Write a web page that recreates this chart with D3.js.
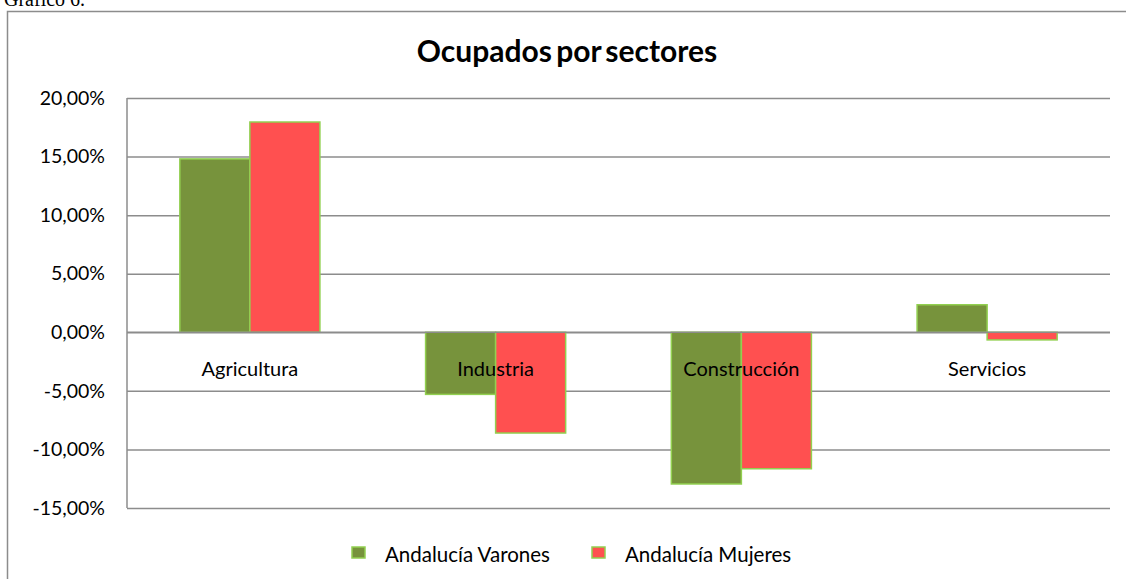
<!DOCTYPE html>
<html>
<head>
<meta charset="utf-8">
<script src="https://cdn.jsdelivr.net/npm/d3@7"></script>
<style>
  body { margin: 0; background: #fff; }
  svg { display: block; font-family: Lato, "Open Sans", sans-serif; }
</style>
</head>
<body>
<svg id="chart" width="1126" height="579"></svg>
<script>
// data
var categories = ["Agricultura", "Industria", "Construcción", "Servicios"];
var seriesNames = ["Andalucía Varones", "Andalucía Mujeres"];
var varones = [14.8, -5.3, -12.95, 2.35];
var mujeres = [17.95, -8.6, -11.65, -0.65];
var yTicks = [20, 15, 10, 5, 0, -5, -10, -15];

var colors = ["#77933C", "#FF5050"];
var svg = d3.select("#chart");
var margin = { left: 127, right: 16, top: 98, bottom: 71 },
    width = +svg.attr("width"),
    height = +svg.attr("height");

// outer chart frame (runs off the right and bottom of the shot)
svg.append("rect")
    .attr("x", 7.5).attr("y", 11.5)
    .attr("width", 1130).attr("height", 580)
    .attr("fill", "none").attr("stroke", "#8c8c8c").attr("stroke-width", 1.5);

// caption above the frame, mostly cut off like in the scan
svg.append("text")
    .attr("x", 4).attr("y", 6)
    .style("font-family", "'Liberation Serif', serif")
    .style("font-size", "20px")
    .text("Gráfico 6.");

svg.append("text")
    .attr("x", 567).attr("y", 62)
    .attr("text-anchor", "middle")
    .style("font-size", "30px").style("font-weight", "bold")
    .style("word-spacing", "-3px")
    .text("Ocupados por sectores");

var y = d3.scaleLinear().domain([-15, 20]).range([height - margin.bottom, margin.top]);
var x0 = d3.scaleBand().domain(categories).range([margin.left, width - margin.right]).paddingInner(0.43).paddingOuter(0.215);
var x1 = d3.scaleBand().domain(seriesNames).range([0, x0.bandwidth()]);

// 2 decimals, comma separator, plain hyphen for negatives
var fmt = function (d) { return d.toFixed(2).replace(".", ",") + "%"; };

// gridlines and y labels
var yAxis = svg.append("g")
    .attr("transform", `translate(${margin.left},0)`)
    .call(d3.axisLeft(y).tickValues(yTicks).tickSize(-(width - margin.left - margin.right)).tickFormat(fmt).tickPadding(22));
yAxis.select(".domain").remove();
yAxis.selectAll(".tick line").attr("stroke", "#8c8c8c").attr("stroke-width", 1.5);
yAxis.selectAll(".tick text").style("font-size", "19.5px").style("font-family", "Lato, sans-serif").attr("fill", "#000");

// left axis line
svg.append("line")
    .attr("x1", margin.left).attr("x2", margin.left)
    .attr("y1", y(20)).attr("y2", y(-15))
    .attr("stroke", "#8c8c8c").attr("stroke-width", 1.5);

// bars
var rows = categories.map((c, i) => ({ cat: c, vals: [varones[i], mujeres[i]] }));
var groups = svg.append("g").selectAll("g")
    .data(rows).join("g")
    .attr("transform", d => `translate(${x0(d.cat)},0)`);
groups.selectAll("rect")
    .data(d => d.vals.map((v, j) => ({ name: seriesNames[j], v: v, j: j })))
    .join("rect")
    .attr("x", d => x1(d.name))
    .attr("width", x1.bandwidth())
    .attr("y", d => y(Math.max(0, d.v)))
    .attr("height", d => Math.abs(y(d.v) - y(0)))
    .attr("fill", d => colors[d.j])
    .attr("stroke", "#92D050").attr("stroke-width", 1.5);

// zero line sits on top of the bars
svg.append("line")
    .attr("x1", margin.left).attr("x2", width - margin.right)
    .attr("y1", y(0)).attr("y2", y(0))
    .attr("stroke", "#8c8c8c").attr("stroke-width", 1.5);

// category labels just under the zero line
svg.append("g").selectAll("text")
    .data(categories).join("text")
    .attr("x", d => x0(d) + x0.bandwidth() / 2)
    .attr("y", y(0) + 44)
    .attr("text-anchor", "middle")
    .style("font-size", "20px")
    .text(d => d);

// legend
var legendX = [352, 592];
var legend = svg.append("g").selectAll("g")
    .data(seriesNames).join("g")
    .attr("transform", (d, i) => `translate(${legendX[i]},547)`);
legend.append("rect")
    .attr("width", 13).attr("height", 11)
    .attr("fill", (d, i) => colors[i])
    .attr("stroke", "#92D050").attr("stroke-width", 1.5);
legend.append("text")
    .attr("x", 33).attr("y", 14.5)
    .style("font-size", "20.5px")
    .text(d => d);
</script>
</body>
</html>
